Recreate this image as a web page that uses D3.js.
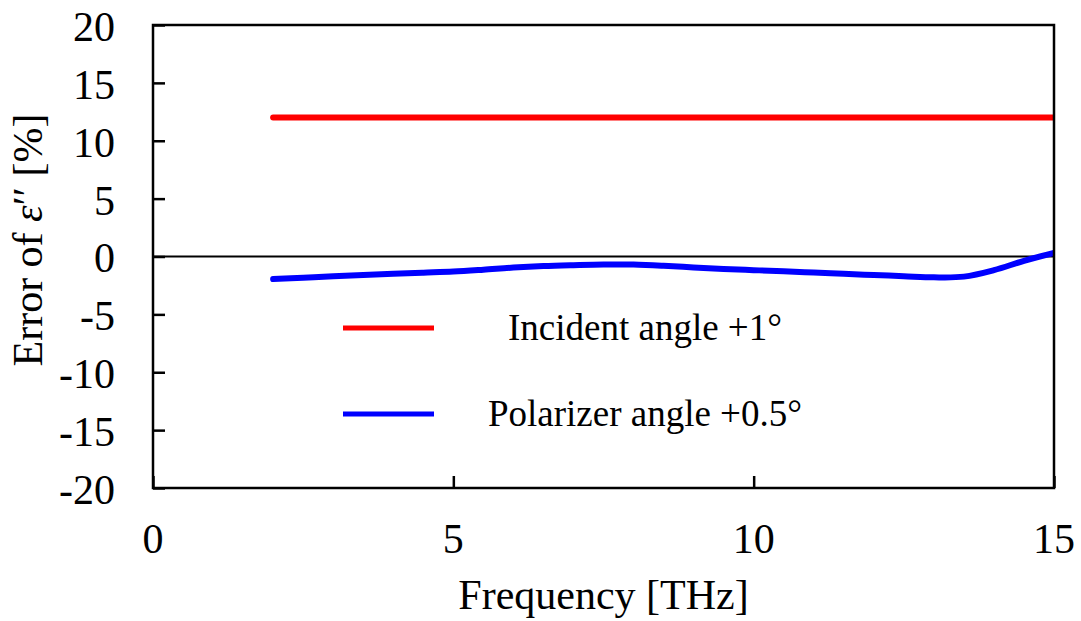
<!DOCTYPE html>
<html>
<head>
<meta charset="utf-8">
<script src="https://cdn.jsdelivr.net/npm/d3@7"></script>
<style>
  body { margin: 0; background: #fff; }
  svg { display: block; }
  text { font-family: "Liberation Serif", "Times New Roman", serif; fill: #000; white-space: pre; }
</style>
</head>
<body>
<svg width="1081" height="621"></svg>
<script>
// Error of eps'' vs frequency

// frequency [THz]
var freq = [2, 2.5, 3, 3.5, 4, 4.5, 5, 5.5, 6, 6.5, 7, 7.5, 8, 8.5, 9, 9.5, 10,
            10.5, 11, 11.5, 12, 12.5, 13, 13.5, 14, 14.5, 15];
// incident angle +1 deg
var incident = [12, 12, 12, 12, 12, 12, 12, 12, 12, 12, 12, 12, 12, 12, 12, 12, 12,
                12, 12, 12, 12, 12, 12, 12, 12, 12, 12];
// polarizer angle +0.5 deg
var polarizer = [-1.95, -1.83, -1.71, -1.6, -1.5, -1.4, -1.3, -1.14, -0.96, -0.83, -0.75, -0.69, -0.7, -0.8, -0.94, -1.07, -1.18,
                 -1.28, -1.39, -1.5, -1.6, -1.7, -1.8, -1.74, -1.18, -0.37, 0.32];

var xTicks = [0, 5, 10, 15];
var yTicks = [-20, -15, -10, -5, 0, 5, 10, 15, 20];

var seriesNames = ["Incident angle +1°", "Polarizer angle +0.5°"];
var seriesColors = ["#ff0000", "#0000ff"];

var svg = d3.select("svg"),
    mLeft = 153, mRight = 1054, mTop = 25, mBottom = 488;

var x = d3.scaleLinear().domain([0, 15]).range([mLeft, mRight]);
var y = d3.scaleLinear().domain([-20, 20]).range([mBottom, mTop]);

svg.append("clipPath").attr("id", "plot")
    .append("rect")
    .attr("x", mLeft).attr("y", mTop)
    .attr("width", mRight - mLeft).attr("height", mBottom - mTop);

// zero line
svg.append("line")
    .attr("x1", x(0)).attr("x2", x(15))
    .attr("y1", y(0)).attr("y2", y(0))
    .attr("stroke", "#000")
    .attr("stroke-width", 2);

// series
var line = d3.line()
    .x(function(d) { return x(d[0]); })
    .y(function(d) { return y(d[1]); })
    .curve(d3.curveCatmullRom);

[incident, polarizer].forEach(function(vals, i) {
    svg.append("path")
        .datum(freq.map(function(f, j) { return [f, vals[j]]; }))
        .attr("clip-path", "url(#plot)")
        .attr("fill", "none")
        .attr("stroke", seriesColors[i])
        .attr("stroke-width", 6)
        .attr("stroke-linecap", "round")
        .attr("stroke-linejoin", "round")
        .attr("d", line);
});

// y axis ticks inward
svg.append("g")
    .attr("transform", "translate(" + mLeft + ",0)")
    .call(d3.axisRight(y).tickValues(yTicks).tickSize(12).tickFormat(""))
    .call(function(g) { g.select(".domain").remove(); })
    .selectAll("line").attr("stroke", "#000").attr("stroke-width", 2.5);

svg.append("g").selectAll("text")
    .data(yTicks)
    .enter()
    .append("text")
    .attr("x", 115)
    .attr("y", function(d) { return y(d); })
    .attr("dy", "0.38em")
    .attr("text-anchor", "end")
    .style("font-size", "42px")
    .text(function(d) { return d; });

// x axis ticks inward
svg.append("g")
    .attr("transform", "translate(0," + mBottom + ")")
    .call(d3.axisTop(x).tickValues(xTicks).tickSize(12).tickFormat(""))
    .call(function(g) { g.select(".domain").remove(); })
    .selectAll("line").attr("stroke", "#000").attr("stroke-width", 2.5);

svg.append("g").selectAll("text")
    .data(xTicks)
    .enter()
    .append("text")
    .attr("x", function(d) { return x(d); })
    .attr("y", 553)
    .attr("text-anchor", "middle")
    .style("font-size", "42px")
    .text(function(d) { return d; });

// frame
svg.append("rect")
    .attr("x", mLeft).attr("y", mTop)
    .attr("width", mRight - mLeft).attr("height", mBottom - mTop)
    .attr("fill", "none")
    .attr("stroke", "#000")
    .attr("stroke-width", 2.5);

// axis titles
svg.append("text")
    .attr("x", (mLeft + mRight) / 2)
    .attr("y", 609)
    .attr("text-anchor", "middle")
    .style("font-size", "42px")
    .text("Frequency [THz]");

var yt = svg.append("text")
    .attr("transform", "translate(42,240) rotate(-90)")
    .attr("text-anchor", "middle")
    .style("font-size", "42px");
yt.append("tspan").text("Error of ");
yt.append("tspan").style("font-style", "italic").text("ε");
yt.append("tspan").text("′′ [%]");

// legend
var legend = svg.append("g");
seriesNames.forEach(function(name, i) {
    var ly = 328 + i * 86;
    legend.append("line")
        .attr("x1", 343).attr("x2", 434)
        .attr("y1", ly).attr("y2", ly)
        .attr("stroke", seriesColors[i])
        .attr("stroke-width", 5);
    legend.append("text")
        .attr("x", 645)
        .attr("y", ly + 12)
        .attr("text-anchor", "middle")
        .style("font-size", "37px")
        .text(name);
});
</script>
</body>
</html>
